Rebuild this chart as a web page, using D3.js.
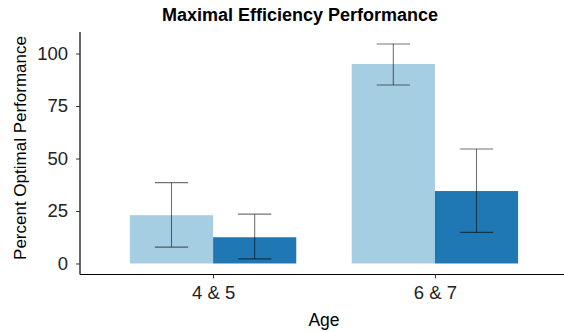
<!DOCTYPE html>
<html>
<head>
<meta charset="utf-8">
<script src="https://cdn.jsdelivr.net/npm/d3@7"></script>
<style>
  body { margin: 0; background: #fff; }
  svg { display: block; font-family: 'Liberation Sans', Arial, sans-serif; }
</style>
</head>
<body>
<div id="svg_container"></div>
<script>
// data
var ages = ['4 & 5', '6 & 7'];
var groups = ['a', 'b'];
var means = [[23, 12.5], [95, 34.5]];
var lows  = [[7.8, 2.2], [85, 14.8]];
var highs = [[38.5, 23.5], [104.5, 54.5]];
var y_ticks = [0, 25, 50, 75, 100];
var colors = ['#a6cee3', '#1f78b4'];

var width = 564, height = 332;

var svg = d3.select('#svg_container')
  .append('svg')
    .attr('width', width)
    .attr('height', height);

// panel limits
var p_left = 80, p_right = 568, p_top = 32, p_bottom = 274.5;

// discrete x as index, with ggplot-ish 0.6 expansion
var x = d3.scaleLinear()
    .domain([-0.6, ages.length - 1 + 0.6])
    .range([p_left, p_right]);

var y = d3.scaleLinear()
    .domain([-5.25, 110.25])
    .range([p_bottom, p_top]);

var bar_w = (x(1) - x(0)) * 0.375;

var rows = [];
ages.forEach(function(a, i) {
  groups.forEach(function(g, j) {
    rows.push({ i: i, j: j, mean: means[i][j], lo: lows[i][j], hi: highs[i][j] });
  });
});

// bars
svg.append('g')
  .selectAll('rect')
  .data(rows)
  .enter().append('rect')
    .attr('x', function(d) { return x(d.i) + (d.j - 1) * bar_w; })
    .attr('y', function(d) { return y(d.mean); })
    .attr('width', bar_w)
    .attr('height', function(d) { return y(0) - y(d.mean); })
    .attr('fill', function(d) { return colors[d.j]; });

// error bars
var cap = bar_w * 0.4;
var err = svg.append('g')
    .attr('stroke', '#000')
    .attr('stroke-opacity', 0.55)
    .attr('stroke-width', 1.1)
  .selectAll('g')
  .data(rows)
  .enter().append('g')
    .attr('transform', function(d) { return 'translate(' + (x(d.i) + (d.j - 0.5) * bar_w) + ',0)'; });

err.append('line')
    .attr('y1', function(d) { return y(d.lo); })
    .attr('y2', function(d) { return y(d.hi); });
err.append('line')
    .attr('x1', -cap / 2).attr('x2', cap / 2)
    .attr('y1', function(d) { return y(d.hi); })
    .attr('y2', function(d) { return y(d.hi); });
err.append('line')
    .attr('x1', -cap / 2).attr('x2', cap / 2)
    .attr('y1', function(d) { return y(d.lo); })
    .attr('y2', function(d) { return y(d.lo); });

// y axis
var y_axis = svg.append('g')
    .attr('transform', 'translate(' + p_left + ',0)')
    .call(d3.axisLeft(y).tickValues(y_ticks).tickSize(4).tickPadding(8));
y_axis.select('.domain').attr('d', 'M0,' + p_top + 'V' + p_bottom);

// x axis
var x_axis = svg.append('g')
    .attr('transform', 'translate(0,' + p_bottom + ')')
    .call(d3.axisBottom(x).tickValues(d3.range(ages.length))
      .tickFormat(function(d) { return ages[d]; })
      .tickSize(4).tickPadding(7));
x_axis.select('.domain').attr('d', 'M' + p_left + ',0H' + width);

svg.selectAll('.tick text')
    .style('font-size', '18.5px')
    .style('font-family', "'Liberation Sans', Arial, sans-serif")
    .attr('fill', '#222');
svg.selectAll('.domain').attr('stroke', '#000').attr('stroke-width', 1.2);
svg.selectAll('.tick line').attr('stroke', '#333');

// titles
svg.append('text')
    .attr('x', 300)
    .attr('y', 20.5)
    .attr('text-anchor', 'middle')
    .attr('font-size', 18)
    .attr('font-weight', 'bold')
    .text('Maximal Efficiency Performance');

svg.append('text')
    .attr('x', 324)
    .attr('y', 325.5)
    .attr('text-anchor', 'middle')
    .attr('font-size', 17.5)
    .text('Age');

svg.append('text')
    .attr('transform', 'translate(25.5,148) rotate(-90)')
    .attr('text-anchor', 'middle')
    .attr('font-size', 17)
    .text('Percent Optimal Performance');
</script>
</body>
</html>
